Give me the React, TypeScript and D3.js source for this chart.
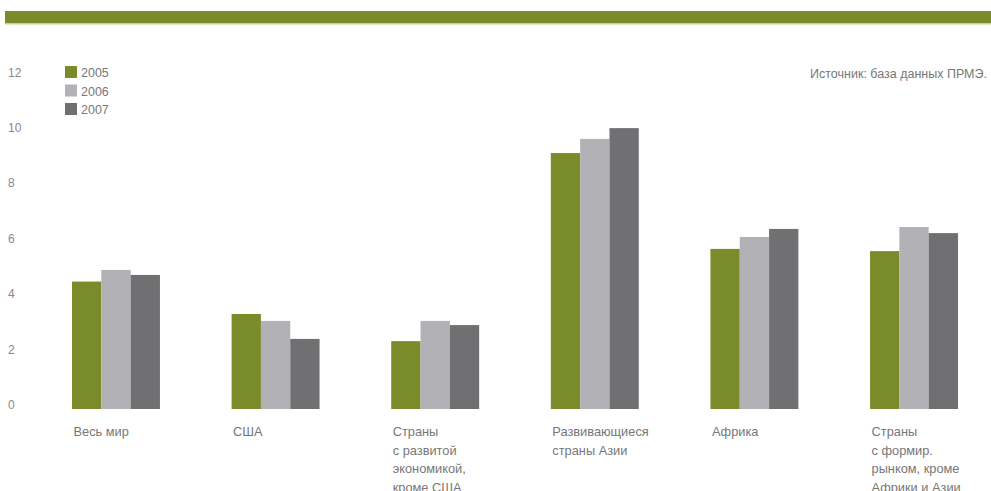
import React from "react";
import * as d3 from "d3";

const categories: string[][] = [
  ["Весь мир"],
  ["США"],
  ["Страны", "с развитой", "экономикой,", "кроме США"],
  ["Развивающиеся", "страны Азии"],
  ["Африка"],
  ["Страны", "с формир.", "рынком, кроме", "Африки и Азии"],
];
const years = ["2005", "2006", "2007"];
const v2005 = [4.6, 3.43, 2.45, 9.24, 5.78, 5.7];
const v2006 = [5.02, 3.18, 3.18, 9.75, 6.21, 6.57];
const v2007 = [4.84, 2.53, 3.03, 10.14, 6.5, 6.35];
const yTicks = [0, 2, 4, 6, 8, 10, 12];
const colors = ["#7a8c2a", "#b2b2b6", "#707072"];
const source = "Источник: база данных ПРМЭ.";

export default function App() {
  const W = 991, H = 491;
  const series = [v2005, v2006, v2007];
  const y = d3.scaleLinear().domain([0, 12]).range([409, 76.6]);
  const x = d3.scaleBand<number>().domain(d3.range(categories.length)).range([72, 958]).paddingInner(0.449).paddingOuter(0);
  const xs = d3.scaleBand<number>().domain([0, 1, 2]).range([0, x.bandwidth()]);
  const font = "'Liberation Sans', Arial, sans-serif";
  return (
    <svg width={W} height={H} style={{ position: "absolute", left: 0, top: 0 }} fontFamily={font}>
      <rect x={5} y={11} width={986} height={13} fill="#7a8c2a" />
      <rect x={5} y={23} width={986} height={1.5} fill="#c9d19c" />
      {yTicks.map((t) => (
        <text key={t} x={8} y={y(t)} fontSize={12} fill="#8a8a8a">{t}</text>
      ))}
      {years.map((yr, i) => (
        <g key={yr}>
          <rect x={65} y={66 + i * 18.5} width={12} height={12} fill={colors[i]} />
          <text x={81} y={77 + i * 18.5} fontSize={12.5} fill="#777">{yr}</text>
        </g>
      ))}
      <text x={987} y={78} fontSize={12.5} fill="#777" textAnchor="end">{source}</text>
      {categories.map((c, ci) => (
        <g key={ci}>
          {series.map((s, si) => (
            <rect key={si} x={(x(ci) as number) + (xs(si) as number)} y={y(s[ci])} width={xs.bandwidth()} height={y(0) - y(s[ci])} fill={colors[si]} />
          ))}
          {c.map((line, li) => (
            <text key={li} x={(x(ci) as number) + 1.5} y={436 + li * 18.5} fontSize={12.8} fill="#777">{line}</text>
          ))}
        </g>
      ))}
    </svg>
  );
}
